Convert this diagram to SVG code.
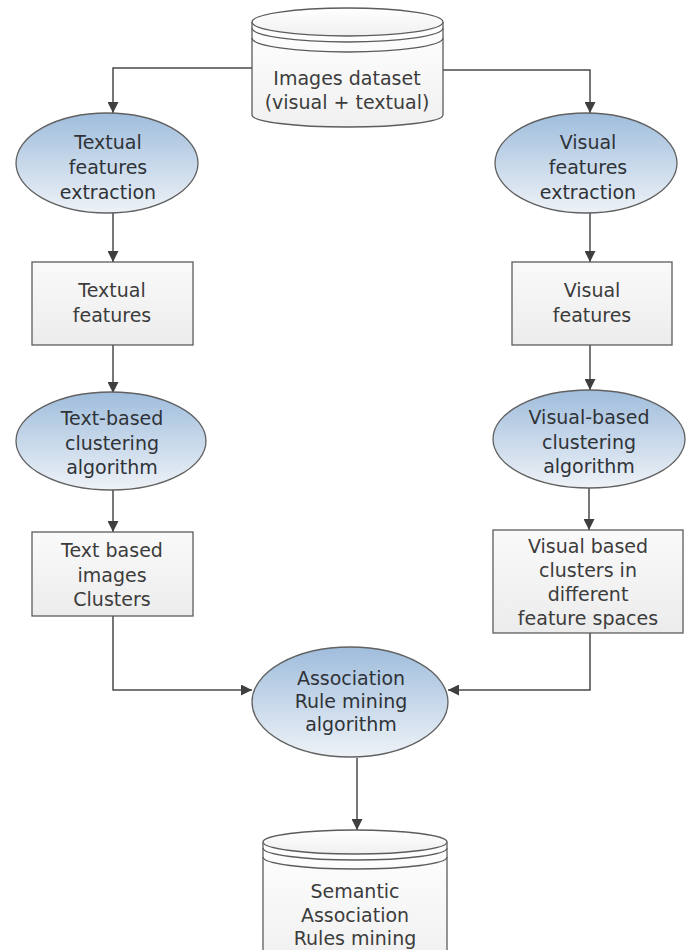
<svg xmlns="http://www.w3.org/2000/svg" width="692" height="950" viewBox="0 0 692 950">
<defs>
<linearGradient id="gEll" x1="0" y1="0" x2="0" y2="1">
<stop offset="0" stop-color="#9fbddc"/>
<stop offset="1" stop-color="#eef2f7"/>
</linearGradient>
<linearGradient id="gRect" x1="0" y1="0" x2="0" y2="1">
<stop offset="0" stop-color="#fafafa"/>
<stop offset="1" stop-color="#ececec"/>
</linearGradient>
<linearGradient id="gCyl" x1="0" y1="0" x2="0" y2="1">
<stop offset="0" stop-color="#ffffff"/>
<stop offset="1" stop-color="#f0f0f0"/>
</linearGradient>
<marker id="arr" viewBox="0 0 10 10" refX="10" refY="5" markerWidth="11" markerHeight="11" markerUnits="userSpaceOnUse" orient="auto">
<path d="M0,0 L10,5 L0,10 Z" fill="#3f3f3f"/>
</marker>
<style>
.ell{fill:url(#gEll);stroke:#616161;stroke-width:1.3}
.box{fill:url(#gRect);stroke:#5c5c5c;stroke-width:1.3}
.cyl{fill:url(#gCyl);stroke:#5c5c5c;stroke-width:1.3}
.cl{fill:none;stroke:#5c5c5c;stroke-width:1.3}
.con{fill:none;stroke:#4a4a4a;stroke-width:1.5;marker-end:url(#arr)}
text{font-family:"DejaVu Sans","Liberation Sans",sans-serif;font-size:19px;fill:#3c3c3c;text-anchor:middle}
.et{fill:#2f3338}
</style>
</defs>
<rect width="692" height="950" fill="#ffffff"/>

<g id="connectors">
<path class="con" d="M252,68 H113 V113"/>
<path class="con" d="M443,70 H590 V113"/>
<path class="con" d="M113,213 V262"/>
<path class="con" d="M113,345 V393"/>
<path class="con" d="M113,490 V532"/>
<path class="con" d="M113,616 V690 H252"/>
<path class="con" d="M590,213 V262"/>
<path class="con" d="M590,345 V390"/>
<path class="con" d="M589,488 V530"/>
<path class="con" d="M590,633 V690 H448"/>
<path class="con" d="M357,758 V830"/>
</g>

<g id="images-dataset">
<path class="cyl" d="M252,22 V115 A95.5,12 0 0 0 443,115 V22"/>
<ellipse class="cyl" cx="347.5" cy="22" rx="95.5" ry="14"/>
<path class="cl" d="M252,28 A95.5,14 0 0 0 443,28"/>
<path class="cl" d="M252,38 A95.5,14 0 0 0 443,38"/>
<text x="347" y="85">Images dataset</text>
<text x="347" y="109">(visual + textual)</text>
</g>

<g id="textual-extraction">
<ellipse class="ell" cx="107" cy="163" rx="91" ry="50"/>
<text class="et" x="108" y="149">Textual</text>
<text class="et" x="108" y="174">features</text>
<text class="et" x="108" y="199">extraction</text>
</g>

<g id="visual-extraction">
<ellipse class="ell" cx="586" cy="163" rx="91" ry="50"/>
<text class="et" x="588" y="149">Visual</text>
<text class="et" x="588" y="174">features</text>
<text class="et" x="588" y="199">extraction</text>
</g>

<g id="textual-features">
<rect class="box" x="32" y="262" width="161" height="83"/>
<text x="112" y="297">Textual</text>
<text x="112" y="322">features</text>
</g>

<g id="visual-features">
<rect class="box" x="512" y="262" width="160" height="83"/>
<text x="592" y="297">Visual</text>
<text x="592" y="322">features</text>
</g>

<g id="text-clustering">
<ellipse class="ell" cx="111" cy="441" rx="95" ry="49"/>
<text class="et" x="112" y="425">Text-based</text>
<text class="et" x="112" y="450">clustering</text>
<text class="et" x="112" y="474">algorithm</text>
</g>

<g id="visual-clustering">
<ellipse class="ell" cx="589" cy="439" rx="96" ry="49"/>
<text class="et" x="589" y="424">Visual-based</text>
<text class="et" x="589" y="449">clustering</text>
<text class="et" x="589" y="473">algorithm</text>
</g>

<g id="text-clusters">
<rect class="box" x="32" y="532" width="161" height="84"/>
<text x="112" y="557">Text based</text>
<text x="112" y="582">images</text>
<text x="112" y="606">Clusters</text>
</g>

<g id="visual-clusters">
<rect class="box" x="493" y="530" width="190" height="103"/>
<text x="588" y="553">Visual based</text>
<text x="588" y="577">clusters in</text>
<text x="588" y="601">different</text>
<text x="588" y="625">feature spaces</text>
</g>

<g id="association">
<ellipse class="ell" cx="350" cy="702" rx="98" ry="55"/>
<text class="et" x="351" y="685">Association</text>
<text class="et" x="351" y="708">Rule mining</text>
<text class="et" x="351" y="731">algorithm</text>
</g>

<g id="semantic-rules">
<path class="cyl" d="M263,842 V960 H447 V842"/>
<ellipse class="cyl" cx="355" cy="842" rx="92" ry="12"/>
<path class="cl" d="M263,848 A92,12 0 0 0 447,848"/>
<path class="cl" d="M263,857 A92,12 0 0 0 447,857"/>
<text x="355" y="898">Semantic</text>
<text x="355" y="922">Association</text>
<text x="355" y="945">Rules mining</text>
</g>
</svg>
